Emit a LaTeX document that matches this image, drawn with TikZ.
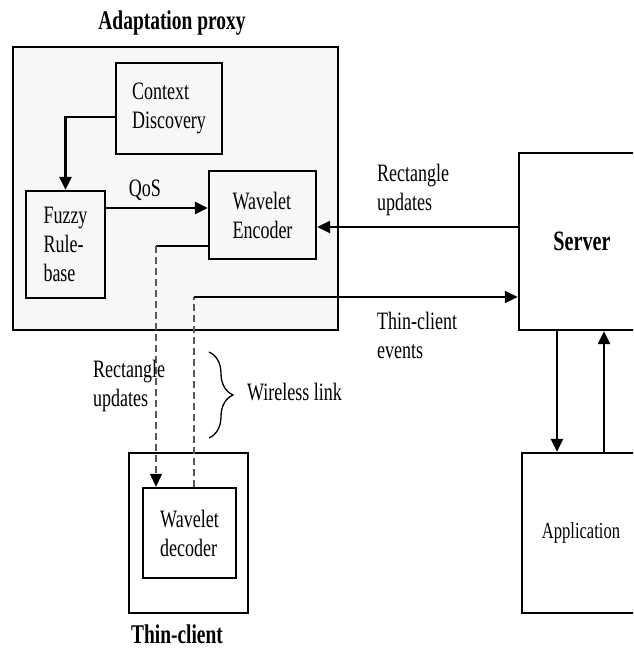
\documentclass[tikz,border=0pt]{standalone}
\usepackage{fontspec}
\setmainfont{Liberation Serif}[FakeStretch=0.72]
\usetikzlibrary{arrows.meta,decorations.pathreplacing}
\definecolor{proxyfill}{HTML}{F7F7F7}
\tikzset{
  txt/.style={font=\fontsize{25}{29}\selectfont, align=left, inner sep=0pt},
  heading/.style={font=\bfseries\fontsize{27}{29}\selectfont, inner sep=0pt},
  box/.style={draw, line width=2.4pt, inner sep=0pt, txt},
  arr/.style={line width=2.4pt, -{Triangle[length=13pt,width=12pt]}},
  thinarr/.style={line width=1.8pt, -{Triangle[length=13pt,width=12pt]}},
  dashline/.style={line width=1.2pt, draw=black!65, dash pattern=on 7pt off 4pt},
}
\begin{document}
\begin{tikzpicture}[x=1pt,y=-1pt]
\useasboundingbox (0,0) rectangle (633,649);
\clip (0,0) rectangle (633,649);

% adaptation proxy container
\node[draw, line width=2pt, fill=proxyfill, minimum width=325pt, minimum height=283pt,
      inner sep=0pt] (proxy) at (175.5,188.5) {};
\node[heading] (proxytitle) at (172,23) {Adaptation proxy};

% components inside the proxy
\node[box, minimum width=106pt, minimum height=91pt] (ctx) at (169,108.5) {Context\\Discovery};
\node[box, minimum width=79pt, minimum height=107pt] (fuzzy) at (65.5,244.5) {Fuzzy\\Rule-\\base};
\node[box, minimum width=107pt, minimum height=88pt] (enc) at (262.5,215) {Wavelet\\Encoder};

% server and application
\node[box, font=\bfseries\fontsize{28}{29}\selectfont, minimum width=126pt, minimum height=177pt]
      (server) at (582,241.5) {Server};
\node[box, font=\fontsize{23}{26}\selectfont, minimum width=118pt, minimum height=160pt]
      (app) at (581,533) {Application};

% thin client
\node[draw, line width=2.6pt, minimum width=119pt, minimum height=160pt, inner sep=0pt]
      (tc) at (188.5,533) {};
\node[box, minimum width=93pt, minimum height=90pt] (dec) at (189.5,533) {Wavelet\\decoder};
\node[heading] (tctitle) at (177,634) {Thin-client};

% connectors inside the proxy
\draw[arr] ([yshift=-8.5pt]ctx.west) -| (fuzzy.north);
\draw[arr] (fuzzy.east |- 0,208) -- (enc.west |- 0,208);
\node[txt] (qos) at (145,190) {QoS};

% server -> encoder
\draw[arr] (server.west |- 0,227) -- (enc.east |- 0,227);
\node[txt, anchor=west] (rupd) at (377,190) {Rectangle\\updates};

% encoder -> decoder over the wireless link
\coordinate (downtop) at (156,246);
\draw[line width=1.6pt] (enc.west |- downtop) -- (downtop);
\draw[dashline, -{Triangle[length=13pt,width=12pt,color=black]}] (downtop) -- (downtop |- dec.north);

% decoder -> server (thin-client events)
\coordinate (uptop) at (194,297);
\draw[dashline] (uptop |- dec.north) -- (uptop);
\draw[thinarr] (uptop) -- (server.west |- uptop);
\node[txt, anchor=west] (tcev) at (377,335) {Thin-client\\events};

\node[txt, anchor=west] (lupd) at (93,386) {Rectangle\\updates};

% wireless link brace
\coordinate (brtop) at (209,352);
\coordinate (brbot) at (209,438);
\draw[line width=1.3pt, decorate, decoration={brace, amplitude=24pt}] (brtop) -- (brbot);
\node[txt, anchor=west] (wl) at (247,392) {Wireless link};

% server <-> application
\draw[arr] (server.south -| 557,0) -- (app.north -| 557,0);
\draw[arr] (app.north -| 604,0) -- (server.south -| 604,0);
\end{tikzpicture}
\end{document}
